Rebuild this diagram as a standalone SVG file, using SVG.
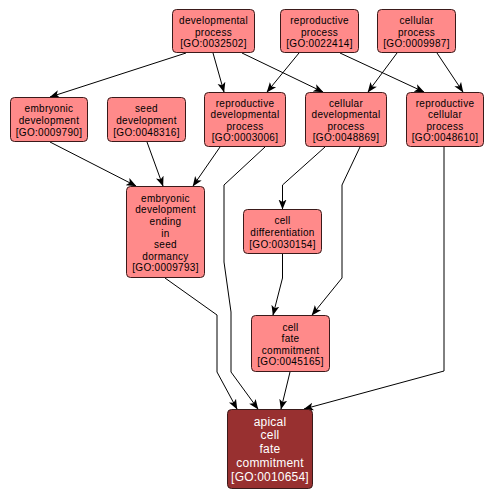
<svg xmlns="http://www.w3.org/2000/svg" width="494" height="500" viewBox="0 0 494 500">
<style>
.n rect{fill:#ff8a8a;stroke:#3a1a1a;stroke-width:1}
.n text{font-family:"Liberation Sans",Arial,sans-serif;font-size:10px;letter-spacing:0.3px;fill:#000;text-anchor:middle}
.dk rect{fill:#983030;stroke:#3a1a1a;stroke-width:1}
.dk text{font-family:"Liberation Sans",Arial,sans-serif;font-size:12px;letter-spacing:0.2px;fill:#fff;text-anchor:middle}
.e path{fill:none;stroke:#000;stroke-width:1;marker-end:url(#a)}
</style>
<defs>
<marker id="a" markerWidth="10" markerHeight="10" viewBox="0 0 10 10" refX="9.5" refY="5" orient="auto" markerUnits="userSpaceOnUse">
<path d="M0,1 L10,5 L0,9 L2.5,5 z" fill="#000"/>
</marker>
</defs>
<g class="e" id="edges">
<path d="M186,53 L50,97"/>
<path d="M213,53 L224,92"/>
<path d="M242,53 L323,92"/>
<path d="M299,53 L267,92"/>
<path d="M340,53 L424,92"/>
<path d="M397,53 L368,92"/>
<path d="M437,53 L463,92"/>
<path d="M50,142 L136,186"/>
<path d="M147,142 L163,186"/>
<path d="M220,147 L193,186"/>
<path d="M265,147 L224,185 L224,262 L231,312 L231,372 L258,409"/>
<path d="M325,147 L282.5,185 L282.5,209"/>
<path d="M360,147 L342,185 L342,278 L312,315"/>
<path d="M165,278 L217,315 L217,372 L237,409"/>
<path d="M282.5,254 L282.5,278 L273,315"/>
<path d="M290,372 L281,409"/>
<path d="M444,147 L444,371 L304,409"/>
</g>
<g class="n" id="developmental_process">
<rect x="172.5" y="9.5" width="82" height="43" rx="4"/>
<text x="213.5" y="24.1">developmental</text><text x="213.5" y="35.7">process</text><text x="213.5" y="47.3">[GO:0032502]</text>
</g>
<g class="n" id="reproductive_process">
<rect x="280.5" y="9.5" width="78" height="43" rx="4"/>
<text x="319.5" y="24.1">reproductive</text><text x="319.5" y="35.7">process</text><text x="319.5" y="47.3">[GO:0022414]</text>
</g>
<g class="n" id="cellular_process">
<rect x="377.5" y="9.5" width="78" height="43" rx="4"/>
<text x="416.5" y="24.1">cellular</text><text x="416.5" y="35.7">process</text><text x="416.5" y="47.3">[GO:0009987]</text>
</g>
<g class="n" id="embryonic_development">
<rect x="10.5" y="97.5" width="77" height="44" rx="4"/>
<text x="49" y="112.4">embryonic</text><text x="49" y="124">development</text><text x="49" y="135.6">[GO:0009790]</text>
</g>
<g class="n" id="seed_development">
<rect x="107.5" y="97.5" width="78" height="44" rx="4"/>
<text x="146.5" y="112.4">seed</text><text x="146.5" y="124">development</text><text x="146.5" y="135.6">[GO:0048316]</text>
</g>
<g class="n" id="reproductive_developmental_process">
<rect x="204.5" y="92.5" width="81" height="54" rx="4"/>
<text x="245" y="106.6">reproductive</text><text x="245" y="118.2">developmental</text><text x="245" y="129.8">process</text><text x="245" y="141.4">[GO:0003006]</text>
</g>
<g class="n" id="cellular_developmental_process">
<rect x="305.5" y="92.5" width="81" height="54" rx="4"/>
<text x="346" y="106.6">cellular</text><text x="346" y="118.2">developmental</text><text x="346" y="129.8">process</text><text x="346" y="141.4">[GO:0048869]</text>
</g>
<g class="n" id="reproductive_cellular_process">
<rect x="406.5" y="92.5" width="77" height="54" rx="4"/>
<text x="445" y="106.6">reproductive</text><text x="445" y="118.2">cellular</text><text x="445" y="129.8">process</text><text x="445" y="141.4">[GO:0048610]</text>
</g>
<g class="n" id="embryonic_development_ending_in_seed_dormancy">
<rect x="126.5" y="186.5" width="78" height="91" rx="4"/>
<text x="165.5" y="201.7">embryonic</text><text x="165.5" y="213.3">development</text><text x="165.5" y="224.9">ending</text><text x="165.5" y="236.5">in</text><text x="165.5" y="248.1">seed</text><text x="165.5" y="259.7">dormancy</text><text x="165.5" y="271.3">[GO:0009793]</text>
</g>
<g class="n" id="cell_differentiation">
<rect x="243.5" y="209.5" width="78" height="44" rx="4"/>
<text x="282.5" y="224.4">cell</text><text x="282.5" y="236">differentiation</text><text x="282.5" y="247.6">[GO:0030154]</text>
</g>
<g class="n" id="cell_fate_commitment">
<rect x="251.5" y="315.5" width="78" height="56" rx="4"/>
<text x="290.5" y="330.6">cell</text><text x="290.5" y="342.2">fate</text><text x="290.5" y="353.8">commitment</text><text x="290.5" y="365.4">[GO:0045165]</text>
</g>
<g class="dk" id="apical_cell_fate_commitment">
<rect x="227.5" y="409.5" width="85" height="79" rx="4"/>
<text x="270" y="425.5">apical</text><text x="270" y="439.4">cell</text><text x="270" y="453.3">fate</text><text x="270" y="467.2">commitment</text><text x="270" y="481.1">[GO:0010654]</text>
</g>
</svg>
